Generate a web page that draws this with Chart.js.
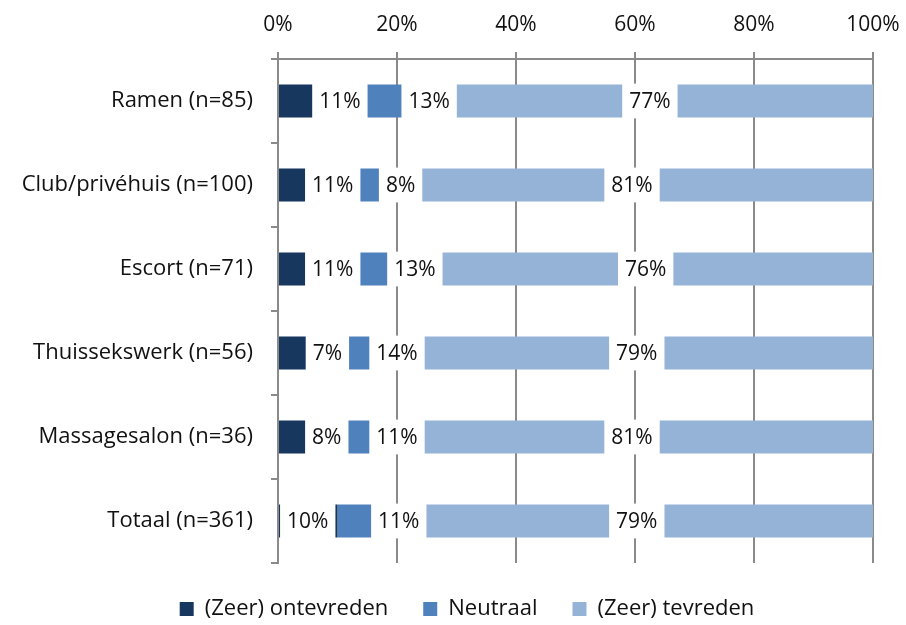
<!DOCTYPE html>
<html>
<head>
<meta charset="utf-8">
<title>Tevredenheid per sector</title>
<script src="https://cdn.jsdelivr.net/npm/chart.js@4.4.1/dist/chart.umd.min.js"></script>
<style>
    html, body { margin: 0; padding: 0; background: #fff; }
    #chart-wrap { width: 906px; height: 625px; }
</style>
</head>
<body>
<div id="chart-wrap"><canvas id="chart" width="906" height="625"></canvas></div>
<script>
// Categories and shares (%) per group
const categories = [
    'Ramen (n=85)',
    'Club/privéhuis (n=100)',
    'Escort (n=71)',
    'Thuissekswerk (n=56)',
    'Massagesalon (n=36)',
    'Totaal (n=361)'
];
const seriesNames = ['(Zeer) ontevreden', 'Neutraal', '(Zeer) tevreden'];
const ontevreden = [10.6, 11, 11, 7, 8, 10];
const neutraal = [12.9, 8, 13, 14, 11, 11];
const tevreden = [76.5, 81, 76, 79, 81, 79];
const xTicks = [0, 20, 40, 60, 80, 100];

// The source chart had its data labels dragged by hand; value on the x axis where each label sits
const labelAt = [
    [10.4, 9.2, 9.2, 8.3, 8.2, 5.0],
    [25.4, 20.6, 23.0, 20.0, 20.0, 20.3],
    [62.5, 59.5, 61.8, 60.3, 59.5, 60.3]
];

const colors = ['#17375E', '#4F81BD', '#95B3D7'];
const axisGray = '#8a8a8a';
const textColor = '#111';
const family = '"Open Sans", Roboto, sans-serif';
const font = { family: family, size: 21 };
const bigFont = { family: family, size: 22 };

/**
 * Draw the percentage labels on a white box over the bars
 */
const boxedLabels = {
    id: 'boxedLabels',
    afterDatasetsDraw(chart) {
        const ctx = chart.ctx;
        const xScale = chart.scales.x;
        ctx.save();
        ctx.font = font.size + 'px ' + font.family;
        ctx.textAlign = 'center';
        ctx.textBaseline = 'middle';
        chart.data.datasets.forEach((ds, i) => {
            chart.getDatasetMeta(i).data.forEach((bar, j) => {
                const text = Math.round(ds.data[j]) + '%';
                const cx = xScale.getPixelForValue(labelAt[i][j]);
                const w = ctx.measureText(text).width + 14;
                const h = bar.height + 2;
                ctx.fillStyle = '#fff';
                ctx.fillRect(cx - w / 2, bar.y - h / 2, w, h);
                ctx.fillStyle = textColor;
                ctx.fillText(text, cx, bar.y + 1);
            });
        });
        ctx.restore();
    }
};

// Legend in the source sits a little right of the page centre
const legendShift = {
    id: 'legendShift',
    afterLayout(chart) {
        chart.legend.left += 14;
        chart.legend.right += 14;
    }
};

const seriesData = [ontevreden, neutraal, tevreden];

new Chart(document.getElementById('chart'), {
    type: 'bar',
    data: {
        labels: categories,
        datasets: seriesNames.map((name, i) => ({
            label: name,
            data: seriesData[i],
            backgroundColor: colors[i],
            borderWidth: 0,
            barPercentage: 0.39,
            categoryPercentage: 1
        }))
    },
    options: {
        responsive: false,
        animation: false,
        devicePixelRatio: 1,
        indexAxis: 'y',
        layout: { padding: { left: 0, right: 0, top: 0, bottom: -5 } },
        scales: {
            x: {
                position: 'top',
                stacked: true,
                min: 0,
                max: 100,
                afterBuildTicks: scale => { scale.ticks = xTicks.map(v => ({ value: v })); },
                afterFit: scale => {
                    scale.height = 59;
                    scale.paddingLeft = 0;
                    scale.paddingRight = 33;
                },
                ticks: { callback: v => v + '%', font: font, color: textColor, padding: 14, maxRotation: 0 },
                grid: { color: axisGray, lineWidth: 2, tickLength: 7 },
                border: { color: axisGray, width: 2 }
            },
            y: {
                stacked: true,
                afterFit: scale => { scale.width = 278; },
                ticks: { font: bigFont, color: textColor, padding: 18 },
                grid: { offset: true, drawOnChartArea: false, color: axisGray, lineWidth: 2, tickLength: 7 },
                border: { color: axisGray, width: 2 }
            }
        },
        plugins: {
            legend: {
                position: 'bottom',
                labels: { boxWidth: 14, boxHeight: 14, padding: 35, font: bigFont, color: textColor }
            },
            tooltip: { enabled: false }
        }
    },
    plugins: [boxedLabels, legendShift]
});
</script>
</body>
</html>
